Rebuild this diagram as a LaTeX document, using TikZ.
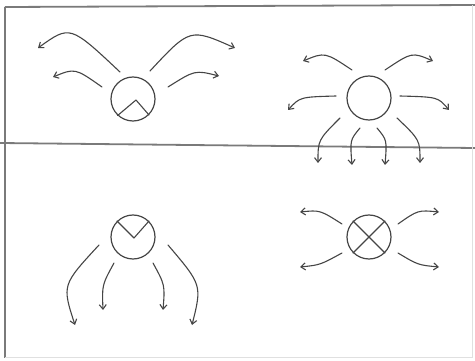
\documentclass[tikz,border=0pt]{standalone}
\usetikzlibrary{arrows.meta}
\definecolor{ink}{HTML}{454545}
\definecolor{frame}{HTML}{7A7A7A}
\definecolor{faint}{HTML}{E0E0E0}
\tikzset{
  x=1pt, y=-1pt,
  sketch/.style={draw=ink, line width=1.1pt, line cap=round, line join=round},
  flow/.style={sketch, -{Straight Barb[length=4.5pt,width=7pt]}},
  ring/.style={circle, draw=ink, line width=1.2pt, minimum size=44pt, inner sep=0pt},
  border/.style={draw=frame, line width=1.8pt},
}
\begin{document}
\begin{tikzpicture}
\useasboundingbox (0,0) rectangle (475,361);
% frame
\draw[border] (5,7) -- (475,5);
\draw[border] (5,7) -- (5,358);
\draw[border] (0,143) -- (475,148);
\draw[draw=faint, line width=0.8pt] (5,357) -- (472,357) -- (472,5);

% top-left: circle with chevron
\node[ring] (tl) at (133,99) {};
\draw[sketch] (tl.-133) -- (136,100) -- (tl.-45);
\draw[flow] (120,72) .. controls (70,25) .. (38,48);
\draw[flow] (102,87) .. controls (75,68) .. (53,77);
\draw[flow] (150,71) .. controls (190,28) .. (235,48);
\draw[flow] (168,87) .. controls (195,70) .. (219,76);

% top-right: plain circle, eight arrows
\node[ring] (tr) at (369,98) {};
\draw[flow] (352,70) .. controls (325,52) .. (303,61);
\draw[flow] (385,70) .. controls (412,52) .. (433,61);
\draw[flow] (336,96) .. controls (300,97) .. (288,110);
\draw[flow] (400,96) .. controls (438,97) .. (449,110);
\draw[flow] (340,118) .. controls (318,140) .. (318,163);
\draw[flow] (360,128) .. controls (350,140) .. (352,165);
\draw[flow] (377,128) .. controls (387,140) .. (385,165);
\draw[flow] (397,118) .. controls (420,140) .. (420,163);

% bottom-left: circle with V
\node[ring] (bl) at (133,237) {};
\draw[sketch] (bl.135) -- (134,238) -- (bl.45);
\draw[flow] (99,245) .. controls (62,285) .. (75,325);
\draw[flow] (114,263) .. controls (102,285) .. (103,310);
\draw[flow] (153,263) .. controls (165,285) .. (163,310);
\draw[flow] (168,245) .. controls (202,285) .. (192,325);

% bottom-right: circle with cross
\node[ring] (br) at (369,237) {};
\draw[sketch] (br.45) -- (br.-135);
\draw[sketch] (br.135) -- (br.-45);
\draw[flow] (342,224) .. controls (320,210) .. (300,212);
\draw[flow] (398,224) .. controls (418,210) .. (439,212);
\draw[flow] (342,253) .. controls (320,265) .. (300,267);
\draw[flow] (398,253) .. controls (418,265) .. (439,267);
\end{tikzpicture}
\end{document}
